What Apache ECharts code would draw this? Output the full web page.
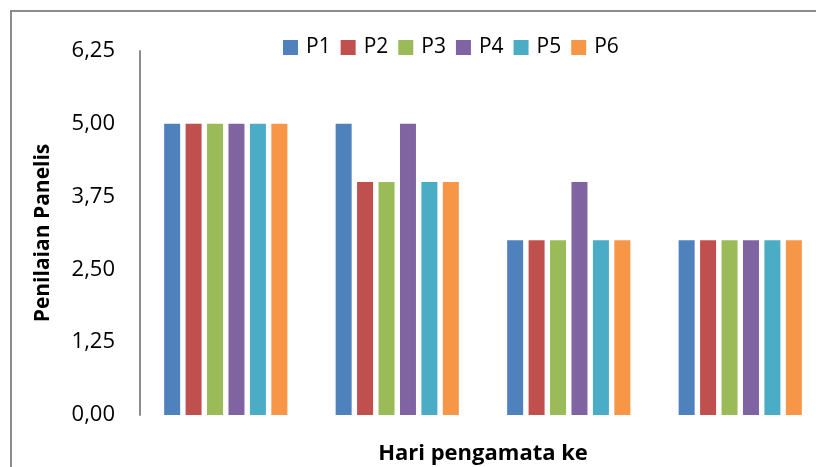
<!DOCTYPE html>
<html><head><meta charset="utf-8">
<script src="https://cdn.jsdelivr.net/npm/echarts@6/dist/echarts.min.js"></script>
<style>html,body{margin:0;padding:0;background:#fff}#c{width:816px;height:467px}</style>
</head><body><div id="c"></div>
<script>
const categories = ['1', '2', '3', '4'];
const seriesNames = ['P1', 'P2', 'P3', 'P4', 'P5', 'P6'];
const P1 = [5, 5, 3, 3];
const P2 = [5, 4, 3, 3];
const P3 = [5, 4, 3, 3];
const P4 = [5, 5, 4, 3];
const P5 = [5, 4, 3, 3];
const P6 = [5, 4, 3, 3];
const values = [P1, P2, P3, P4, P5, P6];
const colors = ['#4F81BD', '#C0504D', '#9BBB59', '#8064A2', '#4BACC6', '#F79646'];
const yMin = 0, yMax = 6.25, yStep = 1.25;
const font = 'Open Sans';

const chart = echarts.init(document.getElementById('c'));
chart.setOption({
  animation: false,
  color: colors,
  graphic: [{
    type: 'rect', shape: { x: 11, y: 11, width: 900, height: 900 },
    style: { fill: 'none', stroke: '#8c8c8c', lineWidth: 2 }, silent: true
  }],
  legend: {
    left: 278, top: 32, icon: 'rect', itemWidth: 15, itemHeight: 15, itemGap: 10,
    textStyle: { fontFamily: font, fontSize: 21, color: '#000', padding: [0, 0, 0, 3] },
    data: seriesNames
  },
  grid: { left: 140, top: 51, width: 686, height: 364, containLabel: false, outerBoundsMode: 'none' },
  xAxis: {
    type: 'category', data: categories,
    axisLine: { show: false }, axisTick: { show: false }, axisLabel: { show: false },
    name: 'Hari pengamata ke', nameLocation: 'middle', nameGap: 28,
    nameTextStyle: { fontFamily: font, fontSize: 22, fontWeight: 'bold', color: '#000' }
  },
  yAxis: {
    type: 'value', min: yMin, max: yMax, interval: yStep,
    axisLine: { show: true, lineStyle: { color: '#8c8c8c', width: 2 } },
    axisTick: { show: false }, splitLine: { show: false },
    axisLabel: {
      margin: 25, fontFamily: font, fontSize: 22, color: '#000',
      formatter: v => v.toFixed(2).replace('.', ',')
    },
    name: 'Penilaian Panelis', nameLocation: 'middle', nameGap: 86,
    nameTextStyle: { fontFamily: font, fontSize: 21, fontWeight: 'bold', color: '#000' }
  },
  series: seriesNames.map((n, i) => ({
    name: n, type: 'bar', data: values[i], barWidth: 16, barGap: '34%',
    itemStyle: { color: colors[i] }
  }))
});
</script></body></html>
